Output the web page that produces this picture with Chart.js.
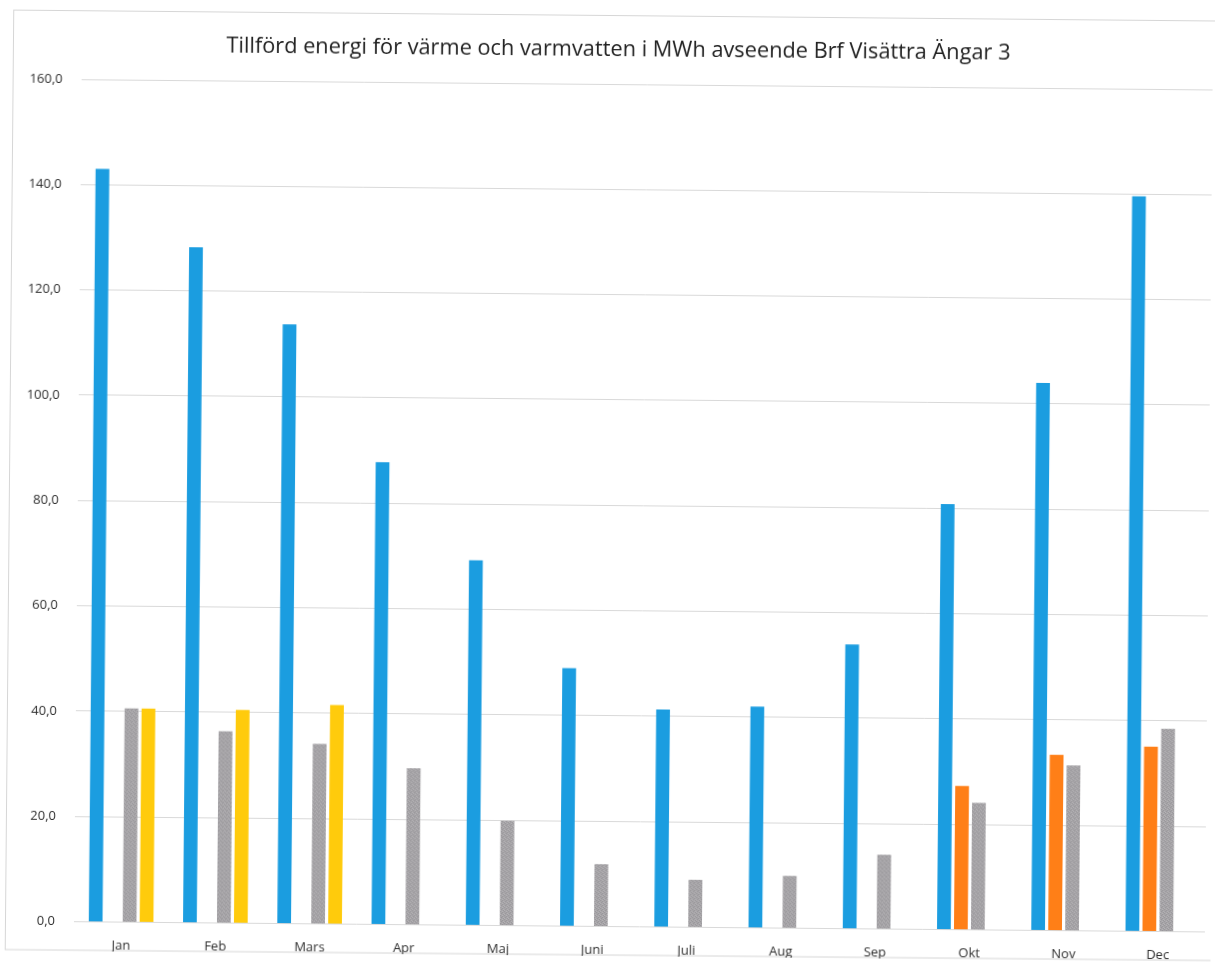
<!DOCTYPE html>
<html lang="sv">
<head>
<meta charset="utf-8">
<title>Tillförd energi för värme och varmvatten</title>
<script src="https://cdn.jsdelivr.net/npm/chart.js@4.4.1/dist/chart.umd.min.js"></script>
<style>
  html, body { margin: 0; padding: 0; background: #ffffff; overflow: hidden; }
  #wrap { width: 1215px; height: 962px; transform: rotate(0.52deg); transform-origin: 50% 50%; }
  canvas { display: block; }
</style>
</head>
<body>
<div id="wrap"><canvas id="chart" width="1215" height="962"></canvas></div>
<script>
// Months on the category axis
const months = ['Jan', 'Feb', 'Mars', 'Apr', 'Maj', 'Juni', 'Juli', 'Aug', 'Sep', 'Okt', 'Nov', 'Dec'];

// Supplied energy per month, MWh
const serie1 = [143.0, 128.3, 113.8, 87.8, 69.3, 49.0, 41.3, 42.0, 54.0, 80.8, 104.0, 139.6];
const serie2 = [null, null, null, null, null, null, null, null, null, 27.3, 33.4, 35.1];
const serie3 = [40.6, 36.4, 34.2, 29.7, 19.9, 11.8, 9.0, 9.9, 14.1, 24.1, 31.4, 38.5];
const serie4 = [40.6, 40.5, 41.6, null, null, null, null, null, null, null, null, null];

// Y axis range and step
const yMin = 0;
const yMax = 160;
const yStep = 20;

const titleText = 'Tillförd energi för värme och varmvatten i MWh avseende Brf Visättra Ängar 3';

// Stippled grey fill for the third series
function stipple() {
  const c = document.createElement('canvas');
  c.width = 4; c.height = 4;
  const g = c.getContext('2d');
  g.fillStyle = '#a7a5a8';
  g.fillRect(0, 0, 4, 4);
  g.fillStyle = '#98969a';
  g.fillRect(0, 0, 1, 1); g.fillRect(2, 1, 1, 1); g.fillRect(1, 2, 1, 1); g.fillRect(3, 3, 1, 1);
  g.fillStyle = '#b4b2b5';
  g.fillRect(2, 0, 1, 1); g.fillRect(0, 3, 1, 1); g.fillRect(3, 2, 1, 1);
  return g.createPattern(c, 'repeat');
}

// Light frame around the whole chart, and a small rightward nudge of the title
const framePlugin = {
  id: 'frame',
  afterLayout(chart) {
    const t = chart.titleBlock;
    if (t) { t.left += 10; t.right += 10; }
  },
  beforeDraw(chart) {
    const ctx = chart.ctx;
    ctx.save();
    ctx.fillStyle = '#ffffff';
    ctx.fillRect(0, 0, chart.width, chart.height);
    ctx.strokeStyle = '#d6d6d6';
    ctx.lineWidth = 1;
    ctx.strokeRect(9.5, 15.5, chart.width + 10, 939.5);
    ctx.restore();
  }
};

const barOpts = { categoryPercentage: 0.72, barPercentage: 0.81, borderWidth: 0 };

new Chart(document.getElementById('chart'), {
  type: 'bar',
  data: {
    labels: months,
    datasets: [
      Object.assign({ label: 'Serie 1', data: serie1, backgroundColor: '#1b9de0' }, barOpts),
      Object.assign({ label: 'Serie 2', data: serie2, backgroundColor: '#ff7f17' }, barOpts),
      Object.assign({ label: 'Serie 3', data: serie3, backgroundColor: stipple() }, barOpts),
      Object.assign({ label: 'Serie 4', data: serie4, backgroundColor: '#ffcb0c' }, barOpts)
    ]
  },
  plugins: [framePlugin],
  options: {
    responsive: false,
    animation: false,
    layout: { padding: { left: 0, right: 6, top: 0, bottom: 6 } },
    plugins: {
      legend: { display: false },
      tooltip: { enabled: false },
      title: {
        display: true,
        text: titleText,
        color: '#222222',
        font: { family: 'Open Sans', size: 21.75, weight: 'normal', lineHeight: 1.2 },
        padding: { top: 37, bottom: 20.9 }
      }
    },
    scales: {
      x: {
        afterFit(scale) { scale.height = 29.5; },
        grid: { display: false, drawTicks: false },
        border: { display: false },
        ticks: {
          color: '#2e2e2e',
          padding: 16,
          font: { family: 'Open Sans', size: 13 },
          maxRotation: 0
        }
      },
      y: {
        min: yMin,
        max: yMax,
        afterFit(scale) { scale.width = 78; },
        grid: { color: '#d9d9d9', lineWidth: 1, drawTicks: false },
        border: { display: false },
        ticks: {
          stepSize: yStep,
          color: '#2e2e2e',
          padding: 19,
          font: { family: 'Open Sans', size: 13 },
          callback: v => v.toFixed(1).replace('.', ',')
        }
      }
    }
  }
});
</script>
</body>
</html>
